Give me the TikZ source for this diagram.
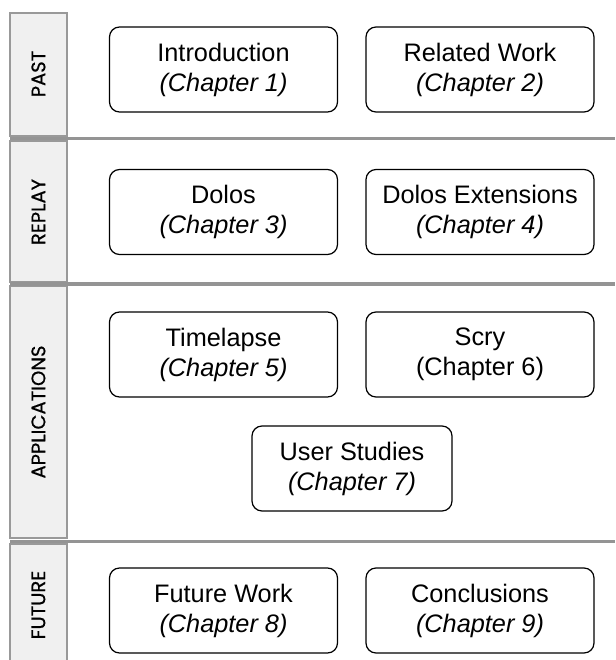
\documentclass[tikz,border=0pt]{standalone}
\usepackage{fontspec}
\setmainfont{Liberation Sans}
\newfontfamily\labfont{Poppins}[FakeBold=0.6]
\begin{document}
\begin{tikzpicture}[x=1pt,y=-1pt,
  chap/.style={draw=black,line width=1.2pt,rounded corners=10pt,minimum width=228pt,minimum height=85pt,align=center,font=\fontsize{25.3}{30}\selectfont,inner sep=0pt},
  labbox/.style={draw=black!40,line width=1.5pt,fill=black!6},
  labtext/.style={rotate=90,font=\labfont\fontsize{19.5}{21}\selectfont,text=black,inner sep=0pt},
  sep/.style={draw=black!42,line width=3.5pt}]
\useasboundingbox (0,0) rectangle (615,660);
% label column
\draw[labbox] (10,13) rectangle (67,136);
\draw[labbox] (10,141) rectangle (67,282);
\draw[labbox] (10,286) rectangle (67,538);
\draw[labbox] (10,544) rectangle (67,670);
\node[labtext] (lpast) at (38.4,74) {PAST};
\node[labtext] (lreplay) at (38.4,212) {REPLAY};
\node[labtext] (lapp) at (38.4,412) {APPLICATIONS};
\node[labtext] (lfut) at (38.4,605) {FUTURE};
% separators
\draw[sep] (10,138.5) -- (615,138.5);
\draw[sep] (10,284) -- (615,284);
\draw[sep] (10,541.5) -- (615,541.5);
% chapters
\node[chap] (intro) at (223.5,69.5) {Introduction\\\textit{(Chapter 1)}};
\node[chap] (rel) at (480,69.5) {Related Work\\\textit{(Chapter 2)}};
\node[chap] (dolos) at (223.5,212) {Dolos\\\textit{(Chapter 3)}};
\node[chap] (dolosx) at (480,212) {Dolos Extensions\\\textit{(Chapter 4)}};
\node[chap] (time) at (223.5,354.5) {Timelapse\\\textit{(Chapter 5)}};
\node[chap] (scry) at (480,354.5) {Scry\\(Chapter 6)};
\node[chap,minimum width=200pt] (user) at (352,468.5) {User Studies\\\textit{(Chapter 7)}};
\node[chap] (fut) at (223.5,610.5) {Future Work\\\textit{(Chapter 8)}};
\node[chap] (conc) at (480,610.5) {Conclusions\\\textit{(Chapter 9)}};
\end{tikzpicture}
\end{document}
